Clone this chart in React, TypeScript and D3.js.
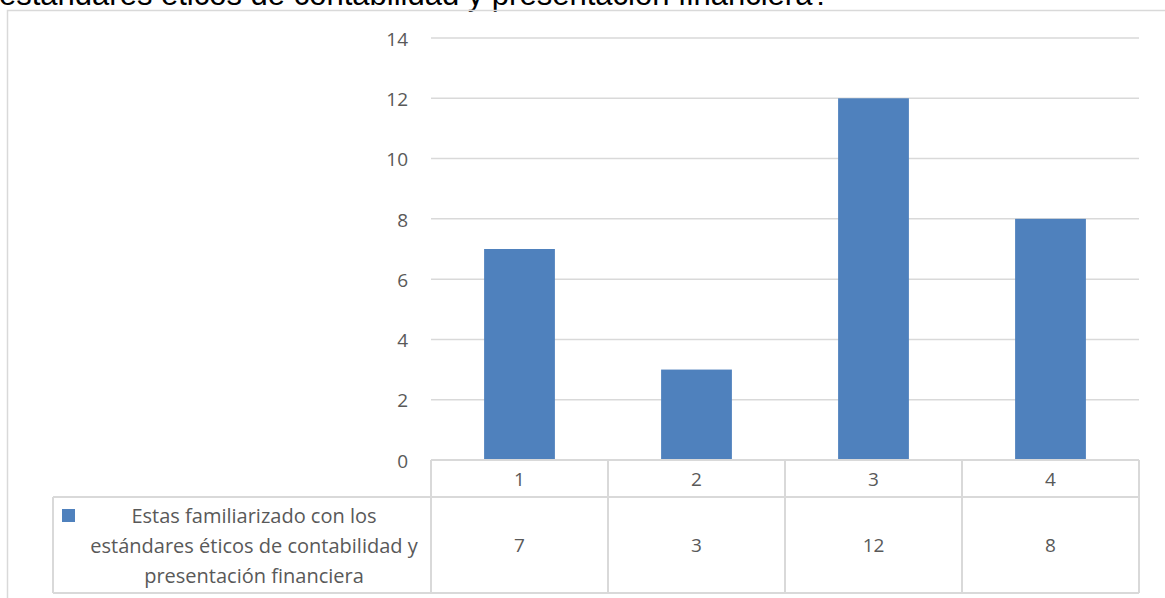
import { useRef, useEffect } from 'react'
import * as d3 from 'd3'

const categories = ['1', '2', '3', '4']
const values = [7, 3, 12, 8]
const yTicks = [0, 2, 4, 6, 8, 10, 12, 14]
const seriesLabel = ['Estas familiarizado con los', 'estándares éticos de contabilidad y', 'presentación financiera']
const title = 'estándares éticos de contabilidad y presentación financiera?'

const W = 1165
const H = 598
const GRID = '#d9d9d9'
const TXT = '#595959'
const BAR = '#4f81bd'
const FONT = '"Open Sans", "Noto Sans", sans-serif'

export default function App() {
  const svgRef = useRef<SVGSVGElement>(null)

  useEffect(() => {
    if (!svgRef.current) return
    const svg = d3.select(svgRef.current)
    svg.selectAll('*').remove()

    const left = 431
    const right = 1139
    const top = 38
    const bottom = 460
    const rowMid = 497
    const tableBottom = 593
    const legendLeft = 53

    // question title, cut off by the top edge
    svg.append('text')
      .attr('x', -1).attr('y', 5)
      .attr('font-family', 'Arial, "Liberation Sans", sans-serif')
      .attr('font-size', '31px')
      .attr('fill', '#000')
      .text(title)

    // chart frame
    svg.append('rect')
      .attr('x', 7.5).attr('y', 10.5)
      .attr('width', W).attr('height', H)
      .attr('fill', 'none').attr('stroke', GRID).attr('stroke-width', 1.5)

    const x = d3.scaleBand().domain(categories).range([left, right]).paddingInner(0).paddingOuter(0)
    const y = d3.scaleLinear().domain([0, 14]).range([bottom, top])

    // gridlines
    svg.append('g').selectAll('line')
      .data(yTicks.filter(d => d > 0))
      .join('line')
      .attr('x1', left).attr('x2', right)
      .attr('y1', d => y(d)).attr('y2', d => y(d))
      .attr('stroke', GRID).attr('stroke-width', 1.5)

    // y labels
    svg.append('g').selectAll('text')
      .data(yTicks)
      .join('text')
      .attr('x', 408).attr('y', d => y(d) + 1)
      .attr('dy', '0.35em')
      .attr('text-anchor', 'end')
      .attr('font-family', FONT).attr('font-size', '19px')
      .attr('fill', TXT)
      .text(d => d)

    // bars
    const bw = x.bandwidth() * 0.4
    svg.append('g').selectAll('rect')
      .data(values)
      .join('rect')
      .attr('x', (d, i) => (x(categories[i]) as number) + (x.bandwidth() - bw) / 2)
      .attr('y', d => y(d))
      .attr('width', bw)
      .attr('height', d => bottom - y(d))
      .attr('fill', BAR)

    // data table
    const tg = svg.append('g').attr('stroke', GRID).attr('stroke-width', 2).attr('fill', 'none')
    tg.append('line').attr('x1', left).attr('x2', right).attr('y1', bottom).attr('y2', bottom)
    tg.append('line').attr('x1', legendLeft).attr('x2', right).attr('y1', rowMid).attr('y2', rowMid)
    tg.append('line').attr('x1', legendLeft).attr('x2', right).attr('y1', tableBottom).attr('y2', tableBottom)
    tg.append('line').attr('x1', legendLeft).attr('x2', legendLeft).attr('y1', rowMid).attr('y2', tableBottom)
    const cols = categories.map(c => x(c) as number).concat([right])
    tg.selectAll('line.col')
      .data(cols)
      .join('line')
      .attr('class', 'col')
      .attr('x1', d => d).attr('x2', d => d)
      .attr('y1', bottom).attr('y2', tableBottom)

    const cx = (c: string) => (x(c) as number) + x.bandwidth() / 2
    svg.append('g').selectAll('text')
      .data(categories)
      .join('text')
      .attr('x', d => cx(d)).attr('y', (bottom + rowMid) / 2 + 1)
      .attr('dy', '0.35em').attr('text-anchor', 'middle')
      .attr('font-family', FONT).attr('font-size', '19px').attr('fill', TXT)
      .text(d => d)

    svg.append('g').selectAll('text')
      .data(values)
      .join('text')
      .attr('x', (d, i) => cx(categories[i])).attr('y', (rowMid + tableBottom) / 2)
      .attr('dy', '0.35em').attr('text-anchor', 'middle')
      .attr('font-family', FONT).attr('font-size', '19px').attr('fill', TXT)
      .text(d => d)

    // legend key + label
    svg.append('rect')
      .attr('x', 62).attr('y', 509).attr('width', 13).attr('height', 13)
      .attr('fill', BAR)
    svg.append('g').selectAll('text')
      .data(seriesLabel)
      .join('text')
      .attr('x', 254).attr('y', (d, i) => 516 + i * 30)
      .attr('dy', '0.35em').attr('text-anchor', 'middle')
      .attr('font-family', FONT).attr('font-size', '20px').attr('fill', TXT)
      .text(d => d)
  }, [])

  return (
    <svg
      ref={svgRef}
      width={W}
      height={H}
      style={{ position: 'absolute', left: 0, top: 0, background: '#fff' }}
    />
  )
}
